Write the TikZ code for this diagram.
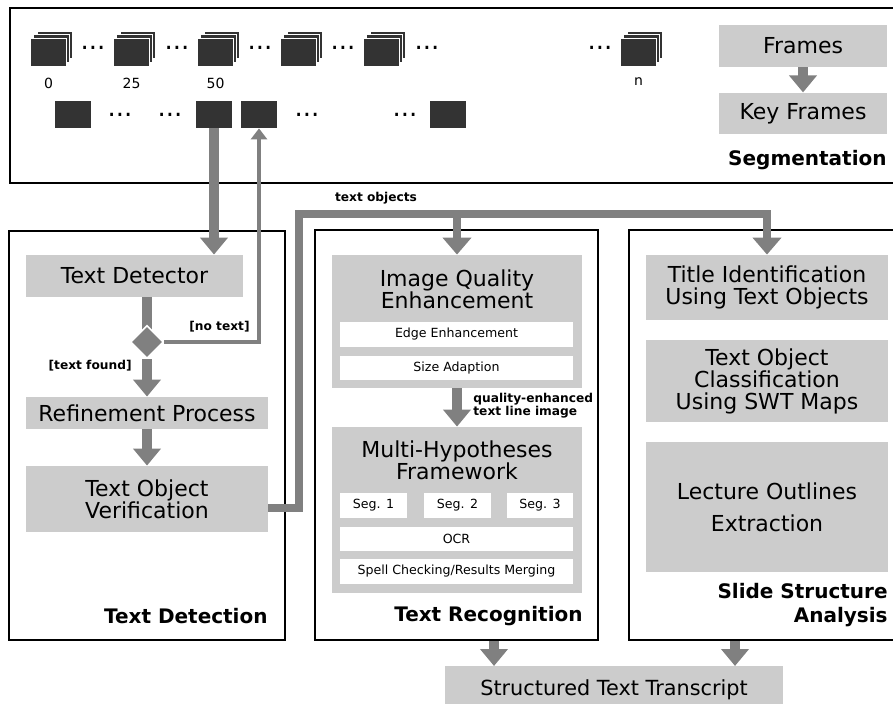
\documentclass[tikz,border=0pt]{standalone}
\usepackage{fontspec}
\setmainfont{DejaVu Sans}
\usepackage{tikz}
\usetikzlibrary{arrows.meta, positioning, shapes.geometric}
\definecolor{boxgray}{RGB}{204,204,204}
\definecolor{flowgray}{RGB}{128,128,128}
\definecolor{framedark}{RGB}{51,51,51}

\begin{document}
\begin{tikzpicture}[
    x=0.5pt, y=-0.5pt,
    sect/.style={draw=black, line width=1.3pt, fill=white, inner sep=0pt},
    gbox/.style={fill=boxgray, inner sep=0pt, align=center, font=\fontsize{11}{11}\selectfont},
    wbox/.style={fill=white, inner sep=0pt, align=center, minimum height=12.5pt, font=\fontsize{6.3}{7}\selectfont},
    sectlabel/.style={font=\bfseries\fontsize{10}{12}\selectfont, align=right, inner sep=0pt},
    smalllabel/.style={font=\bfseries\fontsize{6.1}{6.5}\selectfont, inner sep=0pt},
    keyframe/.style={fill=framedark, minimum width=18pt, minimum height=13.5pt, inner sep=0pt},
    framenum/.style={font=\fontsize{7}{7}\selectfont, inner sep=0pt},
    dots/.style={font=\fontsize{13}{13}\selectfont, inner sep=0pt, anchor=base},
    flow/.style={draw=flowgray, line width=5pt, -{Triangle[width=13.5pt, length=8.5pt]}},
    thinflow/.style={draw=flowgray, line width=2pt, -{Triangle[width=8pt, length=5.5pt]}},
    objflow/.style={draw=flowgray, line width=4pt, -{Triangle[width=14pt, length=8.5pt]}},
  ]

  \useasboundingbox (0,0) rectangle (893,704);
  \clip (0,0) rectangle (893,704);

  % --- stage boxes ---
  \node[sect, minimum width=442.5pt, minimum height=87.5pt] (seg) at (452.5,95.5) {};
  \node[sect, minimum width=138pt, minimum height=204.5pt] (det) at (147,435.5) {};
  \node[sect, minimum width=141.5pt, minimum height=205pt] (recog) at (456.5,435) {};
  \node[sect, minimum width=133pt, minimum height=205pt] (slide) at (762,435) {};

  % --- segmentation: frame stacks and key frames ---
  \foreach \i/\x in {1/30, 2/113, 3/197, 4/280, 5/363, 6/620} {
    \foreach \k in {2,1}
      \fill[framedark, draw=white, line width=0.6pt] (\x+3.5*\k, 38-3.5*\k) rectangle ++(36,28);
    \node[keyframe, minimum height=14pt, draw=white, line width=0.6pt, anchor=north west] (fr\i) at (\x,38) {};
  }
  \node[framenum, below=5.2pt of fr1] (num0) {0};
  \node[framenum, below=5.2pt of fr2] (num25) {25};
  \node[framenum, below=5.2pt of fr3] (num50) {50};
  \node[framenum, below=5.2pt of fr6] (numn) {n};

  \foreach \x in {93,177,260,343,427,600}
    \node[dots] (dt\x) at (\x,50) {...};

  \foreach \i/\x in {1/73, 2/214, 3/259, 4/448}
    \node[keyframe] (kf\i) at (\x,114.5) {};
  \foreach \x in {120,170,307,405}
    \node[dots] (db\x) at (\x,117) {...};

  \node[gbox, minimum width=84pt, minimum height=21pt] (frames) at (803,46) {Frames};
  \node[gbox, minimum width=84pt, minimum height=20.5pt, below=12.5pt of frames] (keyfr) {Key Frames};
  \draw[flow] (frames.south) -- (keyfr.north);
  \node[sectlabel, anchor=east] (seglab) at (887,160) {Segmentation};

  % --- text detection ---
  \node[gbox, minimum width=108.5pt, minimum height=21pt] (detector) at (134.5,276) {Text Detector};
  \draw[draw=flowgray, line width=5pt] (147,297) -- (147,330);
  \node[diamond, fill=flowgray, draw=white, line width=0.8pt, minimum width=16.5pt, minimum height=16.5pt, inner sep=0pt] (dec) at (147,342) {};
  \node[gbox, minimum width=121pt, minimum height=16pt] (refine) at (147,413) {Refinement Process};
  \node[gbox, minimum width=121pt, minimum height=33pt] (verify) at (147,499) {Text Object\\Verification};
  \node[smalllabel, anchor=east] (notext) at (250,327) {[no text]};
  \node[smalllabel, anchor=east] (found) at (132,366) {[text found]};
  \node[sectlabel, anchor=east] (detlab) at (268,616) {Text Detection};

  \draw[flow] (kf2.south) -- (kf2.south |- detector.north);
  \draw[flow] (dec.south) -- (refine.north);
  \draw[flow] (refine.south) -- (verify.north);
  \draw[thinflow] (dec.east) -| (kf3.south);

  % --- text recognition ---
  \node[gbox, minimum width=125pt, minimum height=66.5pt] (iqe) at (457,321.5) {};
  \node[gbox, fill=none] (iqetitle) at (457,289) {Image Quality\\Enhancement};
  \node[wbox, minimum width=116.5pt] (edge) at (456.5,334.5) {Edge Enhancement};
  \node[wbox, minimum width=116.5pt, minimum height=12pt] (size) at (456.5,368) {Size Adaption};

  \node[gbox, minimum width=125pt, minimum height=83pt] (mhf) at (457,510) {};
  \node[gbox, fill=none] (mhftitle) at (457,460) {Multi-Hypotheses\\Framework};
  \node[wbox, minimum width=33.5pt] (seg1) at (373.5,505.5) {Seg. 1};
  \node[wbox, minimum width=33.5pt] (seg2) at (457.5,505.5) {Seg. 2};
  \node[wbox, minimum width=33pt] (seg3) at (540,505.5) {Seg. 3};
  \node[wbox, minimum width=116.5pt, minimum height=12pt] (ocr) at (456.5,539) {OCR};
  \node[wbox, minimum width=116.5pt] (spell) at (456.5,571.5) {Spell Checking/Results Merging};
  \node[sectlabel, anchor=east] (reclab) at (583,616) {Text Recognition};

  \draw[flow] (iqe.south) -- (mhf.north);
  \node[smalllabel, anchor=west, align=left] (qlabel) at (473,406) {quality-enhanced\\text line image};

  % --- slide structure analysis ---
  \node[gbox, minimum width=121pt, minimum height=32.5pt] (titleid) at (767,287.5) {Title Identification\\Using Text Objects};
  \node[gbox, minimum width=121pt, minimum height=41pt] (classify) at (767,381) {Text Object\\Classification\\Using SWT Maps};
  \node[gbox, minimum width=121pt, minimum height=65pt] (outline) at (767,507) {Lecture Outlines\\[5pt]Extraction};
  \node[sectlabel, anchor=east] (slidelab) at (888,605) {Slide Structure\\Analysis};

  % --- text objects bus ---
  \coordinate (tobus) at (299,214);
  \draw[objflow] ([yshift=-4.5pt]verify.east) -| (tobus) -| (titleid.north);
  \draw[objflow] (tobus) -| (iqe.north);
  \node[smalllabel] (tolabel) at (376,198) {text objects};

  % --- output ---
  \node[gbox, minimum width=169pt, minimum height=23pt, anchor=north, font=\fontsize{10.4}{11}\selectfont] (transcript) at (614,666) {Structured Text Transcript};
  \coordinate (recout) at ([xshift=18.75pt]recog.south);
  \coordinate (slideout) at ([xshift=-13.5pt]slide.south);
  \draw[flow] (recout) -- (recout |- transcript.north);
  \draw[flow] (slideout) -- (slideout |- transcript.north);

\end{tikzpicture}
\end{document}
